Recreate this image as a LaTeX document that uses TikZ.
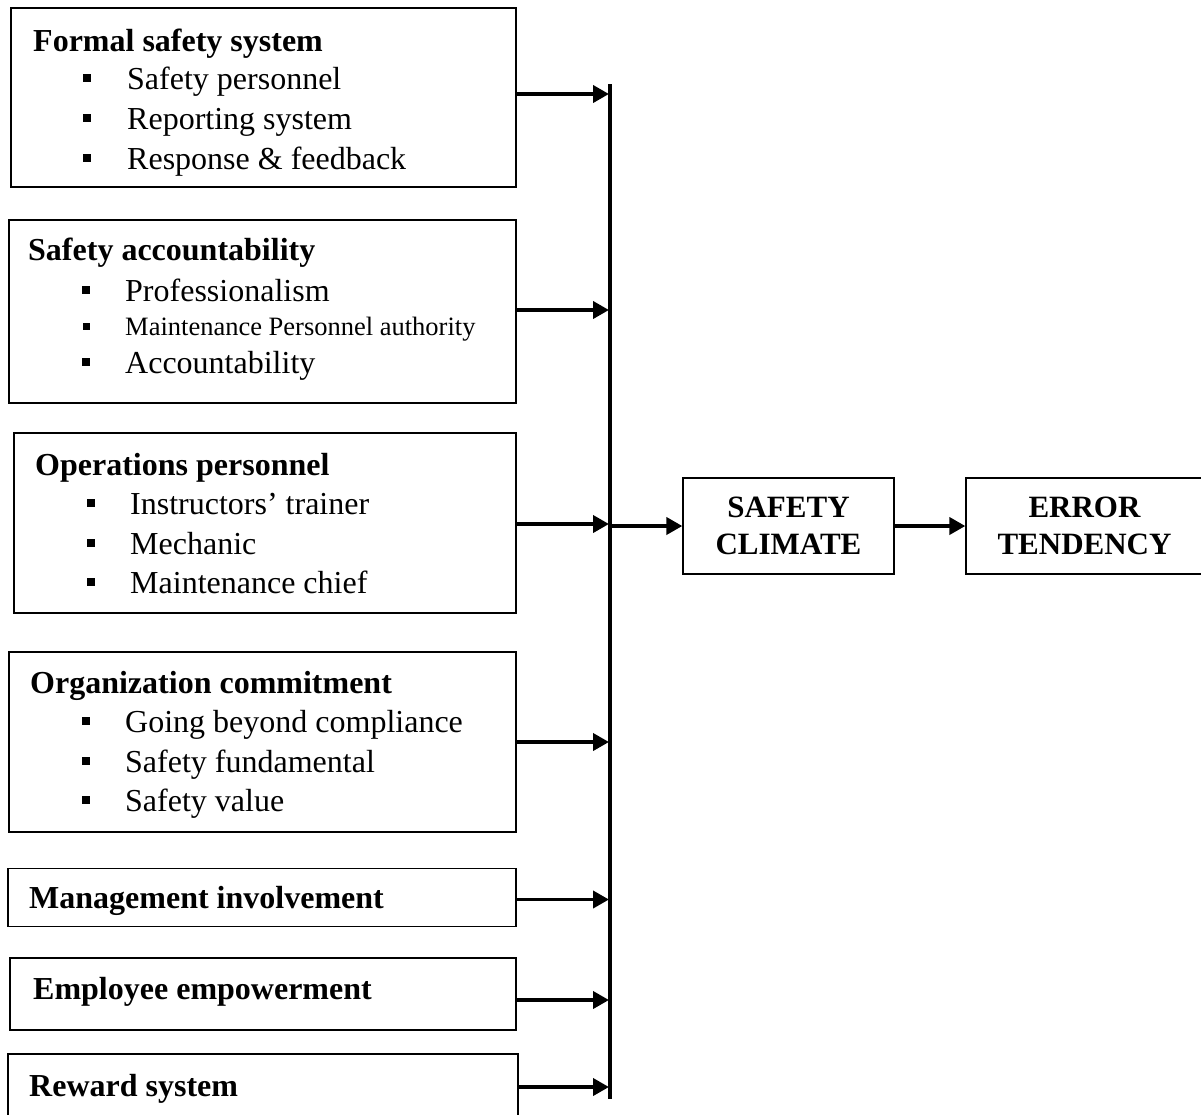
\documentclass[tikz,border=0pt]{standalone}
\usepackage{fontspec}
\setmainfont{Liberation Serif}
\usetikzlibrary{arrows.meta}
\begin{document}
\begin{tikzpicture}[x=1pt,y=-1pt,
  bx/.style={draw, line width=1.3pt, inner sep=0pt},
  ttl/.style={font=\fontsize{32}{36}\selectfont\bfseries, anchor=base west, inner sep=0pt},
  itm/.style={font=\fontsize{32}{36}\selectfont, anchor=base west, inner sep=0pt},
  smitm/.style={font=\fontsize{26.5}{30}\selectfont, anchor=base west, inner sep=0pt},
  sq/.style={fill=black, draw=none, minimum size=8.5pt, inner sep=0pt},
  ctr/.style={bx, font=\fontsize{31}{37}\selectfont\bfseries, align=center},
  arr/.style={line width=3.8pt, -{Triangle[length=16pt,width=17pt]}},
  bus/.style={line width=3.8pt}
]
\useasboundingbox (0,0) rectangle (1201,1114);
% boxes
\node[bx, minimum width=505pt, minimum height=179pt] (b1) at (263.5,97.5) {};
\node[bx, minimum width=507pt, minimum height=183pt] (b2) at (262.5,311.5) {};
\node[bx, minimum width=502pt, minimum height=180pt] (b3) at (265,523) {};
\node[bx, minimum width=507pt, minimum height=180pt] (b4) at (262.5,742) {};
\node[bx, minimum width=508pt, minimum height=58pt] (b5) at (262,897.5) {};
\node[bx, minimum width=506pt, minimum height=72pt] (b6) at (263,994) {};
\node[bx, minimum width=510pt, minimum height=68pt] (b7) at (263,1088) {};
% box 1
\node[ttl] (t1) at (33,51) {Formal safety system};
\node[sq] (s11) at (87,78) {};
\node[itm] (i11) at (127,89) {Safety personnel};
\node[sq] (s12) at (87,118) {};
\node[itm] (i12) at (127,129) {Reporting system};
\node[sq] (s13) at (87,158) {};
\node[itm] (i13) at (127,169) {Response \& feedback};
% box 2
\node[ttl] (t2) at (28,260) {Safety accountability};
\node[sq] (s21) at (86,290) {};
\node[itm] (i21) at (125,301) {Professionalism};
\node[sq, minimum size=7pt] (s22) at (86,326) {};
\node[smitm] (i22) at (125,335) {Maintenance Personnel authority};
\node[sq] (s23) at (86,362) {};
\node[itm] (i23) at (125,373) {Accountability};
% box 3
\node[ttl] (t3) at (35,475) {Operations personnel};
\node[sq] (s31) at (91,503) {};
\node[itm] (i31) at (130,514) {Instructors’ trainer};
\node[sq] (s32) at (91,543) {};
\node[itm] (i32) at (130,554) {Mechanic};
\node[sq] (s33) at (91,582) {};
\node[itm] (i33) at (130,593) {Maintenance chief};
% box 4
\node[ttl] (t4) at (30,693) {Organization commitment};
\node[sq] (s41) at (86,721) {};
\node[itm] (i41) at (125,732) {Going beyond compliance};
\node[sq] (s42) at (86,761) {};
\node[itm] (i42) at (125,772) {Safety fundamental};
\node[sq] (s43) at (86,800) {};
\node[itm] (i43) at (125,811) {Safety value};
% single boxes
\node[ttl] (t5) at (29,908) {Management involvement};
\node[ttl] (t6) at (33,999) {Employee empowerment};
\node[ttl] (t7) at (29,1096) {Reward system};
% bus
\coordinate (bt) at (610,84);
\coordinate (bb) at (610,1099);
\draw[bus] (bt) -- (bb);
% center boxes
\node[ctr, minimum width=211pt, minimum height=96pt] (sc) at (788.5,526) {SAFETY\\CLIMATE};
\node[ctr, minimum width=237pt, minimum height=96pt] (et) at (1084.5,526) {ERROR\\TENDENCY};
% arrows
\foreach \b/\d in {b1/3.5,b2/1.5,b3/-1,b4/0,b5/-2,b6/-6,b7/1}
  \draw[arr] ([yshift=\d pt]\b.east) -- ([yshift=\d pt,xshift=-1pt]\b.east -| bt);
\draw[arr] (sc.west -| bt) -- (sc.west);
\draw[arr] (sc.east) -- (et.west);
\end{tikzpicture}
\end{document}
